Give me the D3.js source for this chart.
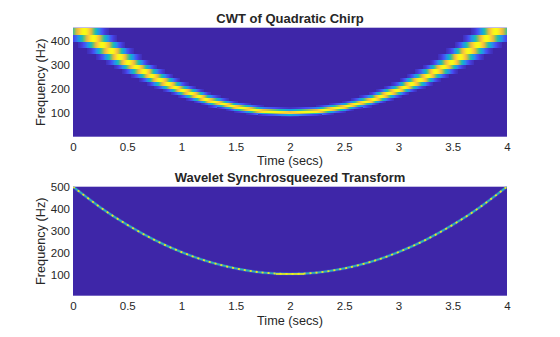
<!DOCTYPE html>
<html><head><meta charset="utf-8">
<script src="https://cdn.jsdelivr.net/npm/d3@7"></script>
<style>
body{margin:0;background:#fff}
svg{display:block}
text{font-family:"Liberation Sans",Arial,Helvetica,sans-serif;fill:#262626}
</style>
</head><body>
<svg id="chart" width="560" height="337"></svg>
<script>
// ---------- data ----------
const timeTicks = [0, 0.5, 1, 1.5, 2, 2.5, 3, 3.5, 4];
const timeTickLabels = ["0", "0.5", "1", "1.5", "2", "2.5", "3", "3.5", "4"];
const cwtFreqTicks = [100, 200, 300, 400];
const wsstFreqTicks = [100, 200, 300, 400, 500];

// ridge sample times (s)
const ridgeTimes = [0, 0.25, 0.5, 0.75, 1, 1.25, 1.5, 1.75, 2, 2.25, 2.5, 2.75, 3, 3.25, 3.5, 3.75, 4];
// ridge frequency as it appears in the CWT image (Hz)
const cwtRidgeHz = [472, 386, 310, 245, 192, 150, 121, 104, 98, 104, 121, 150, 192, 245, 310, 386, 472];
// ridge frequency in the synchrosqueezed image (Hz)
const wsstRidgeHz = [500, 406, 325, 256, 200, 156, 125, 106, 100, 106, 125, 156, 200, 256, 325, 406, 500];
const cwtBinsHz = [436, 407, 380, 354, 331, 308, 288, 269, 251, 234, 218, 204, 190, 177, 165, 154,
                   144, 134, 125, 117, 109, 102, 95, 89, 83, 77, 72, 67, 63, 58, 54, 51, 47, 44];
// flat span of the synchrosqueezed ridge at the minimum (s)
const wsstFlatSpan = [1.87, 2.13];

const titles = ["CWT of Quadratic Chirp", "Wavelet Synchrosqueezed Transform"];
const xLabel = "Time (secs)";
const yLabel = "Frequency (Hz)";

// ---------- styling ----------
const parulaStops = ["#3e26a8", "#4749f3", "#2c87ef", "#12aed5", "#2ebda3", "#81c066", "#dbba43", "#fcc93a", "#f9fb15"];
const parula = d3.scaleLinear()
  .domain(parulaStops.map((_, i) => i / (parulaStops.length - 1)))
  .range(parulaStops).interpolate(d3.interpolateRgb).clamp(true);
const bg = parulaStops[0];

const svg = d3.select("#chart");
const left = 73, right = 507;
const panels = [
  {top: 27.7, bottom: 136.7, yMax: 451, ticks: cwtFreqTicks, title: titles[0], titleY: 22.5, tickY: 151, labY: 165},
  {top: 186.7, bottom: 295.7, yMax: 500, ticks: wsstFreqTicks, title: titles[1], titleY: 182, tickY: 310, labY: 325}
];

const x = d3.scaleLinear().domain([0, 4]).range([left, right]);

panels.forEach((p, i) => {
  p.y = d3.scaleLinear().domain([0, p.yMax]).range([p.bottom, p.top]);
  const g = svg.append("g");
  const clipId = "clip" + i;
  svg.append("clipPath").attr("id", clipId).append("rect")
    .attr("x", left).attr("y", p.top).attr("width", right - left).attr("height", p.bottom - p.top);
  g.append("rect").attr("x", left).attr("y", p.top).attr("width", right - left)
    .attr("height", p.bottom - p.top).attr("fill", bg);
  p.plot = g.append("g").attr("clip-path", `url(#${clipId})`);

  const xa = g.append("g").attr("transform", `translate(0,${p.bottom})`)
    .call(d3.axisBottom(x).tickValues(timeTicks).tickFormat((d, k) => timeTickLabels[k]).tickSize(0));
  xa.select(".domain").remove();
  xa.selectAll("text").attr("y", p.tickY - p.bottom).attr("dy", null)
    .style("font-size", "11.5px").attr("fill", "#262626");

  const ya = g.append("g").attr("transform", `translate(${left},0)`)
    .call(d3.axisLeft(p.y).tickValues(p.ticks).tickFormat(d3.format("d")).tickSize(0));
  ya.select(".domain").remove();
  ya.selectAll("text").attr("x", -3).attr("dy", "0.36em")
    .style("font-size", "11.5px").attr("fill", "#262626");

  g.append("text").attr("x", (left + right) / 2).attr("y", p.labY)
    .attr("text-anchor", "middle").style("font-size", "12.7px").text(xLabel);
  g.append("text").attr("transform", `translate(44.5,${(p.top + p.bottom) / 2}) rotate(-90)`)
    .attr("text-anchor", "middle").style("font-size", "12.7px").text(yLabel);
  g.append("text").attr("x", (left + right) / 2).attr("y", p.titleY)
    .attr("text-anchor", "middle").style("font-size", "13px").style("font-weight", "bold")
    .attr("fill", "#1a1a1a").text(p.title);
});

// ---------- CWT image ----------
const cwtRidge = d3.scaleLinear().domain(ridgeTimes).range(cwtRidgeHz);
const sigma = 0.07;
const binEdges = cwtBinsHz.map((f, k) => {
  const up = k === 0 ? f * Math.sqrt(f / cwtBinsHz[1]) : Math.sqrt(f * cwtBinsHz[k - 1]);
  const lo = k === cwtBinsHz.length - 1 ? f * Math.sqrt(f / cwtBinsHz[k - 1]) : Math.sqrt(f * cwtBinsHz[k + 1]);
  return [lo, up];
});
const cells = [];
const colW = 1;
for (let px = left; px < right; px += colW) {
  const t = x.invert(px + colW / 2);
  const r = cwtRidge(t);
  cwtBinsHz.forEach((f, k) => {
    const d = Math.log(f / r);
    const v = Math.exp(-d * d / (2 * sigma * sigma));
    if (v > 0.03) cells.push({px, k, v});
  });
}
const p0 = panels[0];
p0.plot.selectAll("rect.cell").data(cells).join("rect")
  .attr("class", "cell")
  .attr("x", d => d.px).attr("width", colW + 0.05)
  .attr("y", d => p0.y(binEdges[d.k][1]))
  .attr("height", d => p0.y(binEdges[d.k][0]) - p0.y(binEdges[d.k][1]) + 0.05)
  .attr("fill", d => parula(d.v))
  .attr("shape-rendering", "crispEdges");

// ---------- Synchrosqueezed ridge ----------
const p1 = panels[1];
const pts = ridgeTimes.map((t, k) => [t, wsstRidgeHz[k]]);
const line = d3.line().x(d => x(d[0])).y(d => p1.y(d[1])).curve(d3.curveNatural);
p1.plot.append("path").attr("d", line(pts)).attr("fill", "none")
  .attr("stroke", "#3b6ef2").attr("stroke-width", 3.2).attr("stroke-opacity", 0.4);
p1.plot.append("path").attr("d", line(pts)).attr("fill", "none")
  .attr("stroke", "#2fb2b5").attr("stroke-width", 1.8);
p1.plot.append("path").attr("d", line(pts)).attr("fill", "none")
  .attr("stroke", "#eee023").attr("stroke-width", 1.8).attr("stroke-dasharray", "2,4");
p1.plot.append("line")
  .attr("x1", x(wsstFlatSpan[0])).attr("x2", x(wsstFlatSpan[1]))
  .attr("y1", p1.y(100)).attr("y2", p1.y(100))
  .attr("stroke", "#f9f015").attr("stroke-width", 1.5);
</script>
</body></html>
